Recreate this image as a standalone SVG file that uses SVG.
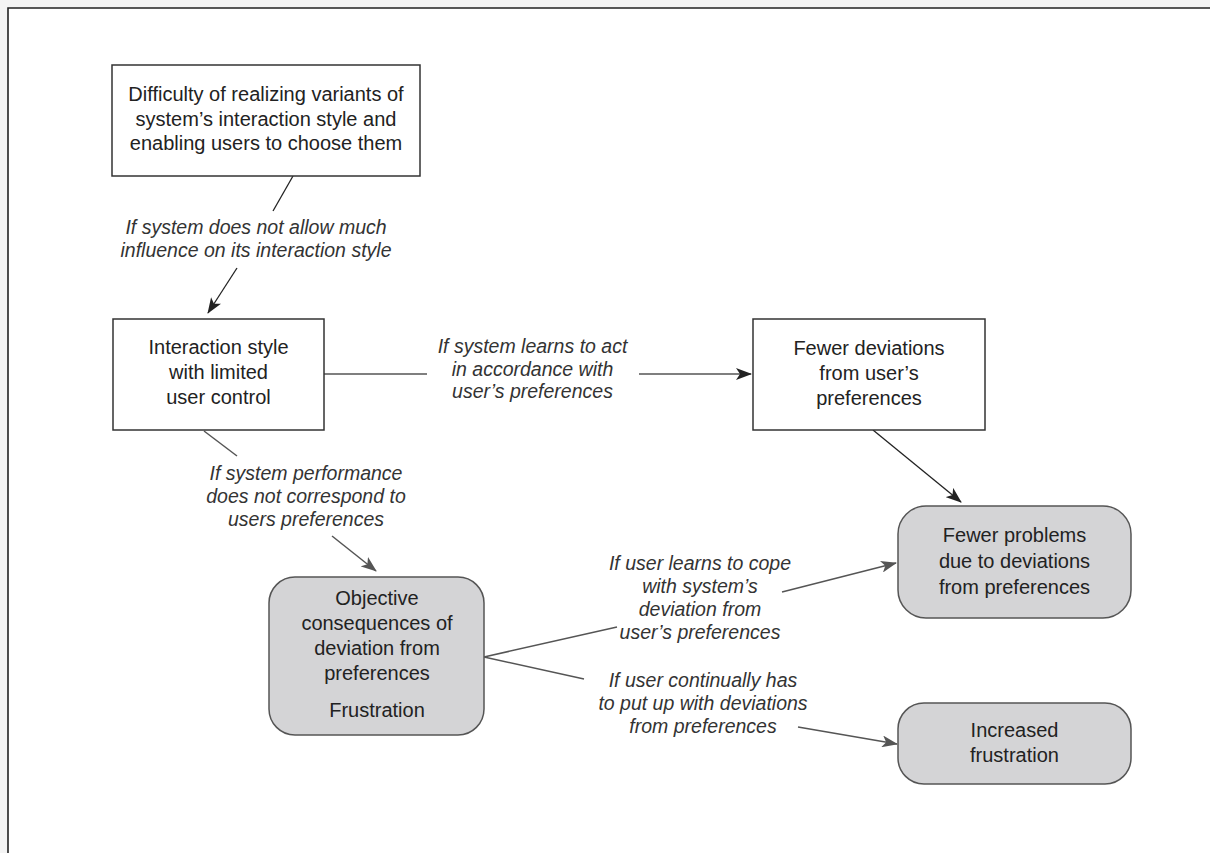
<svg xmlns="http://www.w3.org/2000/svg" width="1210" height="853" viewBox="0 0 1210 853">
<style>
.t{font-family:"Liberation Sans",Arial,sans-serif;font-size:20px;fill:#222;text-anchor:middle}
.i{font-family:"Liberation Sans",Arial,sans-serif;font-size:19.5px;font-style:italic;fill:#333;text-anchor:middle}
.box{fill:#fff;stroke:#333;stroke-width:1.5}
.gbox{fill:#d4d4d6;stroke:#555;stroke-width:1.5}
.dk{stroke:#222;stroke-width:1.3;fill:none}
.gr{stroke:#555;stroke-width:1.5;fill:none}
</style>
<defs>
<marker id="ad" markerUnits="userSpaceOnUse" markerWidth="16" markerHeight="12" refX="15" refY="6" orient="auto" viewBox="0 0 16 12">
<path d="M0,0 L16,6 L0,12 L4,6 z" fill="#222"/>
</marker>
<marker id="ag" markerUnits="userSpaceOnUse" markerWidth="16" markerHeight="12" refX="15" refY="6" orient="auto" viewBox="0 0 16 12">
<path d="M0,0 L16,6 L0,12 L4,6 z" fill="#555"/>
</marker>
</defs>
<rect x="0" y="0" width="1210" height="853" fill="#f4f4f4"/>
<rect x="8" y="8" width="1210" height="860" fill="#fff"/>
<path d="M8,853 L8,8 L1210,8" fill="none" stroke="#222" stroke-width="1.6"/>
<g id="connectors">
<line class="dk" x1="293" y1="176" x2="273" y2="211"/>
<line class="dk" x1="237" y1="268" x2="208" y2="313" marker-end="url(#ad)"/>
<line class="gr" x1="324" y1="374" x2="427" y2="374"/>
<line class="gr" x1="639" y1="374" x2="751" y2="374" marker-end="url(#ad)"/>
<line class="dk" x1="873" y1="430" x2="961" y2="502" marker-end="url(#ad)"/>
<line class="gr" x1="204" y1="431" x2="237" y2="456"/>
<line class="gr" x1="332" y1="536" x2="376" y2="571" marker-end="url(#ag)"/>
<polyline class="gr" points="617,627 484,657 584,679"/>
<line class="gr" x1="782" y1="592" x2="896" y2="563" marker-end="url(#ag)"/>
<line class="gr" x1="798" y1="727" x2="897" y2="744" marker-end="url(#ag)"/>
</g>
<g id="n-difficulty">
<rect class="box" x="112" y="65" width="308" height="111"/>
<text class="t" x="266" y="101">Difficulty of realizing variants of</text>
<text class="t" x="266" y="125.5">system’s interaction style and</text>
<text class="t" x="266" y="150">enabling users to choose them</text>
</g>
<g id="n-interaction">
<rect class="box" x="113" y="319" width="211" height="111"/>
<text class="t" x="218.5" y="354">Interaction style</text>
<text class="t" x="218.5" y="379">with limited</text>
<text class="t" x="218.5" y="404">user control</text>
</g>
<g id="n-fewer-dev">
<rect class="box" x="753" y="319" width="232" height="111"/>
<text class="t" x="869" y="355">Fewer deviations</text>
<text class="t" x="869" y="380">from user’s</text>
<text class="t" x="869" y="405">preferences</text>
</g>
<g id="n-fewer-prob">
<rect class="gbox" x="898" y="506" width="233" height="112" rx="28"/>
<text class="t" x="1014.5" y="542">Fewer problems</text>
<text class="t" x="1014.5" y="568">due to deviations</text>
<text class="t" x="1014.5" y="594">from preferences</text>
</g>
<g id="n-objective">
<rect class="gbox" x="269" y="577" width="215" height="158" rx="26"/>
<text class="t" x="377" y="605">Objective</text>
<text class="t" x="377" y="630">consequences of</text>
<text class="t" x="377" y="655">deviation from</text>
<text class="t" x="377" y="680">preferences</text>
<text class="t" x="377" y="717">Frustration</text>
</g>
<g id="n-increased">
<rect class="gbox" x="898" y="703" width="233" height="81" rx="26"/>
<text class="t" x="1014.5" y="737">Increased</text>
<text class="t" x="1014.5" y="762">frustration</text>
</g>
<g id="labels">
<text class="i" x="256" y="234">If system does not allow much</text>
<text class="i" x="256" y="257">influence on its interaction style</text>
<text class="i" x="532.5" y="353">If system learns to act</text>
<text class="i" x="532.5" y="375.5">in accordance with</text>
<text class="i" x="532.5" y="398">user’s preferences</text>
<text class="i" x="306" y="480">If system performance</text>
<text class="i" x="306" y="503">does not correspond to</text>
<text class="i" x="306" y="526">users preferences</text>
<text class="i" x="700" y="570">If user learns to cope</text>
<text class="i" x="700" y="593">with system’s</text>
<text class="i" x="700" y="616">deviation from</text>
<text class="i" x="700" y="639">user’s preferences</text>
<text class="i" x="703" y="687">If user continually has</text>
<text class="i" x="703" y="710">to put up with deviations</text>
<text class="i" x="703" y="733">from preferences</text>
</g>
</svg>
